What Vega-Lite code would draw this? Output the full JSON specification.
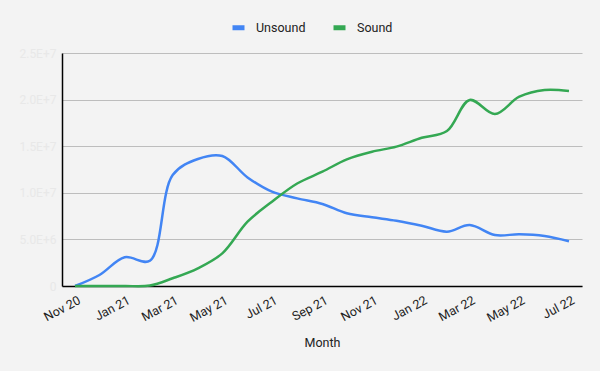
{
  "$schema": "https://vega.github.io/schema/vega-lite/v6.json",
  "autosize": {"type": "none"},
  "width": 520,
  "height": 233,
  "padding": {"left": 62, "top": 53, "right": 18, "bottom": 85},
  "background": "#f3f3f3",
  "config": {
    "view": {"stroke": null},
    "font": "Roboto"
  },
  "data": {
    "values": [
      {"month": "2020-11-01", "series": "Unsound", "value": 0},
      {"month": "2020-12-01", "series": "Unsound", "value": 1180000},
      {"month": "2021-01-01", "series": "Unsound", "value": 3080000},
      {"month": "2021-02-01", "series": "Unsound", "value": 2710000},
      {"month": "2021-03-01", "series": "Unsound", "value": 11900000},
      {"month": "2021-04-01", "series": "Unsound", "value": 13630000},
      {"month": "2021-05-01", "series": "Unsound", "value": 13950000},
      {"month": "2021-06-01", "series": "Unsound", "value": 11650000},
      {"month": "2021-07-01", "series": "Unsound", "value": 10120000},
      {"month": "2021-08-01", "series": "Unsound", "value": 9400000},
      {"month": "2021-09-01", "series": "Unsound", "value": 8800000},
      {"month": "2021-10-01", "series": "Unsound", "value": 7800000},
      {"month": "2021-11-01", "series": "Unsound", "value": 7370000},
      {"month": "2021-12-01", "series": "Unsound", "value": 7000000},
      {"month": "2022-01-01", "series": "Unsound", "value": 6470000},
      {"month": "2022-02-01", "series": "Unsound", "value": 5830000},
      {"month": "2022-03-01", "series": "Unsound", "value": 6550000},
      {"month": "2022-04-01", "series": "Unsound", "value": 5470000},
      {"month": "2022-05-01", "series": "Unsound", "value": 5550000},
      {"month": "2022-06-01", "series": "Unsound", "value": 5360000},
      {"month": "2022-07-01", "series": "Unsound", "value": 4800000},
      {"month": "2020-11-01", "series": "Sound", "value": 0},
      {"month": "2020-12-01", "series": "Sound", "value": 0},
      {"month": "2021-01-01", "series": "Sound", "value": 0},
      {"month": "2021-02-01", "series": "Sound", "value": 50000},
      {"month": "2021-03-01", "series": "Sound", "value": 830000},
      {"month": "2021-04-01", "series": "Sound", "value": 1900000},
      {"month": "2021-05-01", "series": "Sound", "value": 3500000},
      {"month": "2021-06-01", "series": "Sound", "value": 6900000},
      {"month": "2021-07-01", "series": "Sound", "value": 9050000},
      {"month": "2021-08-01", "series": "Sound", "value": 11000000},
      {"month": "2021-09-01", "series": "Sound", "value": 12260000},
      {"month": "2021-10-01", "series": "Sound", "value": 13590000},
      {"month": "2021-11-01", "series": "Sound", "value": 14410000},
      {"month": "2021-12-01", "series": "Sound", "value": 14950000},
      {"month": "2022-01-01", "series": "Sound", "value": 15900000},
      {"month": "2022-02-01", "series": "Sound", "value": 16630000},
      {"month": "2022-03-01", "series": "Sound", "value": 19960000},
      {"month": "2022-04-01", "series": "Sound", "value": 18450000},
      {"month": "2022-05-01", "series": "Sound", "value": 20310000},
      {"month": "2022-06-01", "series": "Sound", "value": 21030000},
      {"month": "2022-07-01", "series": "Sound", "value": 20920000}
    ]
  },
  "mark": {"type": "line", "interpolate": "catmull-rom", "strokeWidth": 2.5},
  "encoding": {
    "x": {
      "field": "month",
      "type": "temporal",
      "scale": {
        "type": "utc",
        "domain": [
          {"year": 2020, "month": 10, "date": 16, "utc": true},
          {"year": 2022, "month": 7, "date": 17, "utc": true}
        ]
      },
      "axis": {
        "title": "Month",
        "titleFont": "Roboto",
        "titleFontSize": 12.5,
        "titleFontWeight": "normal",
        "titleColor": "#222222",
        "titlePadding": 13,
        "format": "%b %y",
        "values": [
          {"year": 2020, "month": 11, "date": 1, "utc": true},
          {"year": 2021, "month": 1, "date": 1, "utc": true},
          {"year": 2021, "month": 3, "date": 1, "utc": true},
          {"year": 2021, "month": 5, "date": 1, "utc": true},
          {"year": 2021, "month": 7, "date": 1, "utc": true},
          {"year": 2021, "month": 9, "date": 1, "utc": true},
          {"year": 2021, "month": 11, "date": 1, "utc": true},
          {"year": 2022, "month": 1, "date": 1, "utc": true},
          {"year": 2022, "month": 3, "date": 1, "utc": true},
          {"year": 2022, "month": 5, "date": 1, "utc": true},
          {"year": 2022, "month": 7, "date": 1, "utc": true}
        ],
        "labelAngle": -28,
        "labelAlign": "right",
        "labelBaseline": "middle",
        "labelPadding": 13,
        "labelOffset": 4,
        "labelFontSize": 12.5,
        "labelColor": "#222222",
        "labelFont": "Roboto",
        "labelOverlap": false,
        "ticks": false,
        "grid": false,
        "domainColor": "#000000",
        "domainWidth": 1.5
      }
    },
    "y": {
      "field": "value",
      "type": "quantitative",
      "scale": {"domain": [0, 25000000], "nice": false},
      "axis": {
        "title": null,
        "values": [0, 5000000, 10000000, 15000000, 20000000, 25000000],
        "labelExpr": "datum.value == 0 ? '0' : replace(format(datum.value, '.1e'), 'e', 'E')",
        "labelColor": "#e8e8e8",
        "labelFontSize": 12,
        "labelFont": "Roboto",
        "labelPadding": 6,
        "ticks": false,
        "grid": true,
        "gridColor": "#bdbdbd",
        "gridWidth": 1,
        "domainColor": "#000000",
        "domainWidth": 1.5
      }
    },
    "color": {
      "field": "series",
      "type": "nominal",
      "scale": {"domain": ["Unsound", "Sound"], "range": ["#4285F4", "#34A853"]},
      "legend": {
        "title": null,
        "orient": "none",
        "direction": "horizontal",
        "legendX": 168,
        "legendY": -34,
        "symbolType": "stroke",
        "symbolSize": 144,
        "symbolStrokeWidth": 5,
        "labelFontSize": 12.5,
        "labelColor": "#222222",
        "labelFont": "Roboto",
        "labelOffset": 9,
        "columnPadding": 17,
        "symbolOffset": 0
      }
    }
  }
}
